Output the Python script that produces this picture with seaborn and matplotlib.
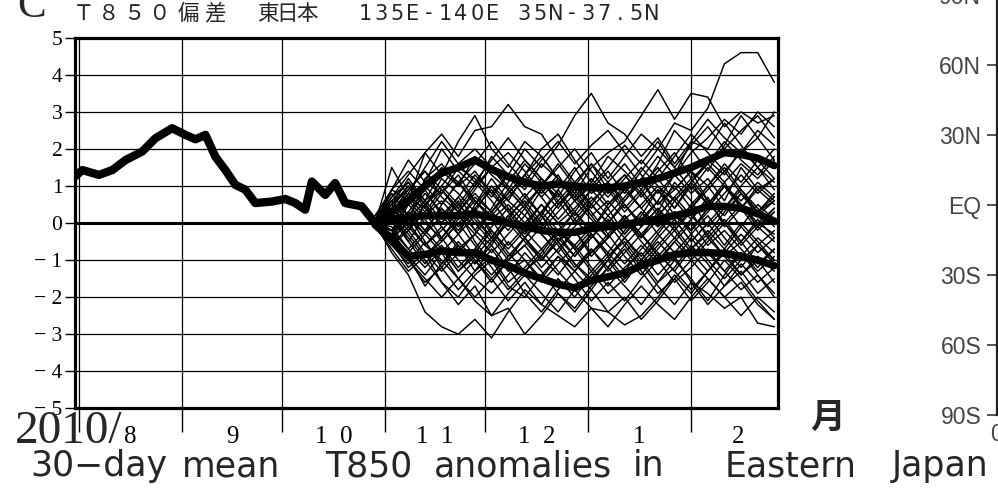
import matplotlib
matplotlib.use("Agg")
import matplotlib.pyplot as plt
import numpy as np
import pandas as pd
import seaborn as sns

W, H = 998, 490

# ---- observed 30-day mean T850 anomaly (days counted from 1 Aug 2010) ----
obs_day = [-1, 1, 6, 10, 14, 19, 23, 28, 32, 35, 38, 41, 44, 47, 50, 53,
           58, 62, 65, 68, 70, 74, 77, 80, 85, 89]
obs_val = [1.27, 1.43, 1.30, 1.43, 1.70, 1.93, 2.29, 2.56, 2.38, 2.26, 2.38,
           1.79, 1.43, 1.03, 0.90, 0.54, 0.58, 0.65, 0.54, 0.36, 1.12, 0.76,
           1.08, 0.54, 0.45, 0.00]

# ---- ensemble forecast (initial 28 Oct), sampled every 5 days ----
ens_day = [89, 94, 99, 104, 109, 114, 119, 124, 129, 134, 139, 144, 149,
           154, 159, 164, 169, 174, 179, 184, 189, 194, 199, 204, 209]

m01 = [0.1, 0.5, 1.2, 0.6, 1.4, 1.0, 1.8, 1.3, 0.9, 1.6, 1.1, 0.7, 1.4, 1.9, 1.2, 1.8, 2.4, 2.0, 2.7, 2.5, 3.1, 4.3, 4.6, 4.6, 3.8]
m02 = [0.0, -0.3, 0.5, 1.1, 0.8, 1.5, 1.2, 0.7, 1.3, 0.9, 1.6, 1.2, 0.8, 1.5, 1.9, 2.2, 2.9, 3.6, 2.8, 3.5, 3.4, 2.6, 3.0, 2.7, 2.9]
m03 = [0.2, 0.9, 1.7, 1.1, 2.0, 1.4, 1.0, 1.8, 1.3, 2.0, 1.5, 2.1, 2.9, 3.5, 2.7, 2.4, 1.8, 2.3, 1.6, 2.2, 2.8, 2.3, 1.9, 2.5, 2.1]
m04 = [0.0, 0.7, 1.3, 1.9, 2.4, 1.8, 2.5, 2.6, 3.2, 2.6, 2.4, 1.7, 1.1, 1.6, 0.9, 1.3, 0.8, 1.4, 1.9, 1.2, 1.6, 2.2, 1.7, 1.3, 1.8]
m05 = [0.1, 0.9, 0.6, 1.9, 1.3, 2.2, 2.9, 2.0, 1.5, 2.2, 1.8, 1.2, 0.6, 1.1, 0.5, 0.9, 1.5, 1.0, 0.4, 1.1, 1.7, 1.3, 2.0, 1.5, 1.1]
m06 = [0.0, 1.5, 0.7, 0.4, 1.2, 0.8, 0.3, 1.0, 0.6, 1.3, 2.0, 2.4, 1.7, 1.1, 1.8, 1.4, 0.9, 1.6, 2.5, 2.0, 1.4, 2.1, 2.9, 2.3, 3.0]
m07 = [0.0, -0.4, 0.3, 0.9, 0.2, -0.3, 0.5, 1.0, 0.4, -0.2, 0.3, 0.8, 0.1, -0.4, 0.2, 0.7, 1.2, 0.5, 0.9, 1.4, 0.6, 0.2, 0.8, 0.3, 0.6]
m08 = [0.1, 0.3, -0.5, 0.2, 0.8, 1.3, 0.6, 0.1, -0.6, -0.1, 0.5, 0.0, -0.7, -0.2, 0.4, -0.3, 0.2, 0.9, 0.4, 1.0, 0.5, 1.1, 0.4, -0.2, 0.3]
m09 = [-0.1, 0.5, 1.0, 0.4, 0.0, 0.6, -0.2, -0.6, 0.1, 0.7, 1.2, 0.5, 0.9, 0.3, -0.3, 0.2, -0.4, 0.3, 1.1, 0.6, -0.1, 0.4, 1.0, 1.5, 0.9]
m10 = [0.0, -0.2, 0.6, 0.1, -0.5, 0.0, 0.4, -0.3, -0.9, -0.4, 0.2, -0.5, -0.1, 0.5, 0.0, -0.6, -0.1, 0.4, -0.2, 0.3, -0.4, 0.1, -0.5, 0.0, -0.3]
m11 = [0.2, 0.6, 0.0, 1.2, 1.6, 1.0, 1.4, 0.8, 1.3, 0.7, 0.2, 0.9, 1.5, 0.8, 1.1, 0.5, 0.0, 0.6, 1.3, 0.8, 1.2, 0.6, 1.5, 0.9, 1.2]
m12 = [-0.1, -0.6, -0.2, 0.5, -0.1, -0.7, -0.3, 0.3, 0.9, 0.4, -0.3, -0.8, -0.2, -0.9, -0.4, 0.2, -0.3, -0.9, -0.4, 0.1, 0.6, 0.0, -0.6, -0.1, -0.5]
m13 = [0.0, -0.8, -1.4, -2.4, -2.8, -3.0, -2.6, -3.1, -2.4, -1.8, -2.2, -1.5, -2.0, -1.4, -0.9, -1.5, -1.0, -1.6, -1.2, -0.6, -1.1, -1.7, -1.3, -1.9, -1.5]
m14 = [-0.1, -0.5, -1.2, -0.8, -1.6, -2.2, -1.7, -2.5, -2.3, -3.0, -2.5, -1.9, -2.4, -1.8, -1.2, -1.7, -2.2, -1.6, -1.0, -1.5, -2.1, -1.4, -0.8, -1.3, -0.9]
m15 = [0.0, -0.3, -0.9, -1.4, -0.8, -1.5, -2.0, -1.5, -2.1, -1.6, -2.2, -2.5, -2.8, -2.3, -2.4, -2.75, -2.5, -2.0, -1.4, -1.9, -1.3, -0.8, -1.4, -1.0, -1.6]
m16 = [0.1, -0.4, 0.2, -0.5, -1.1, -0.6, -1.3, -0.9, -1.6, -1.2, -0.7, -1.3, -1.8, -1.3, -1.9, -1.5, -1.1, -1.7, -2.2, -1.6, -1.9, -2.3, -2.0, -2.7, -2.8]
m17 = [0.0, -0.6, -1.1, -0.5, -1.2, -1.8, -1.3, -0.7, -1.3, -1.0, -1.6, -1.1, -0.6, -1.2, -1.7, -1.2, -0.8, -1.4, -0.9, -1.6, -2.2, -1.7, -1.1, -1.6, -1.2]
m18 = [0.1, -0.2, -0.9, -1.7, -1.1, -0.5, -1.0, -1.6, -1.0, -0.4, -0.9, -1.4, -0.8, -0.3, -0.9, -0.5, -1.1, -0.6, -0.1, -0.7, -0.3, -0.9, -0.5, -1.1, -0.7]
m19 = [-0.1, 0.2, -0.4, -1.0, -1.6, -2.0, -1.4, -1.0, -1.7, -2.0, -1.4, -0.9, -1.5, -2.1, -1.6, -2.1, -1.5, -1.0, -1.6, -1.2, -0.7, -1.3, -1.8, -1.4, -2.0]
m20 = [0.0, 0.4, 0.0, -0.6, -0.2, 0.3, -0.5, -1.1, -0.5, -1.0, -1.5, -0.9, -1.3, -0.7, -1.2, -0.6, -1.2, -0.7, -0.2, -0.8, -1.3, -0.7, -1.2, -0.6, -1.0]
m21 = [0.0, 0.3, 0.9, 1.4, 0.7, 0.3, 0.9, 1.5, 1.9, 1.4, 0.8, 1.3, 0.6, 1.0, 1.5, 2.1, 1.6, 2.2, 1.5, 2.1, 2.6, 2.0, 2.5, 2.9, 2.3]
m22 = [0.1, 0.8, 0.2, -0.3, 0.5, 1.1, 0.5, 1.2, 0.6, 0.2, 0.9, 0.4, 1.0, 1.6, 1.1, 0.6, 1.2, 1.8, 1.3, 2.2, 2.0, 2.7, 2.1, 1.5, 2.0]
m23 = [-0.1, 0.2, 0.8, 0.3, 0.9, 0.4, -0.2, 0.4, 1.1, 1.7, 1.2, 0.8, 0.2, 0.7, 0.2, -0.3, 0.3, -0.1, 0.6, 0.1, 0.7, -0.1, 0.4, 0.9, 0.5]
m24 = [0.0, -0.1, -0.7, -0.2, 0.4, -0.3, -0.9, -0.4, 0.2, -0.4, -1.0, -0.5, -1.1, -1.6, -1.0, -0.4, -0.9, -0.3, 0.3, -0.2, 0.4, 1.0, 0.5, 0.0, 0.4]
m25 = [0.0, 0.6, 0.2, 0.8, 0.3, -0.2, 0.4, 0.9, 0.3, 0.8, 0.2, -0.3, 0.3, -0.2, 0.5, 1.0, 0.4, 0.9, 0.2, -0.2, 0.4, 1.0, 0.6, 1.1, 0.7]
m26 = [-0.1, -0.5, 0.1, -0.3, -0.8, -0.3, 0.2, -0.4, -1.0, -0.6, -1.2, -0.7, -0.2, -0.8, -0.3, -0.9, -1.4, -0.8, -1.3, -0.7, -0.2, -0.7, -0.1, -0.6, -0.2]
m27 = [0.1, 0.4, 1.0, 0.5, 1.0, 1.6, 2.0, 1.5, 0.9, 0.4, 1.0, 1.5, 2.0, 1.4, 0.8, 1.3, 0.7, 1.2, 1.8, 2.4, 1.9, 1.4, 1.9, 2.3, 1.7]
m28 = [0.0, -0.3, -0.8, -0.3, 0.2, 0.7, 0.1, -0.4, 0.2, 0.6, 0.0, -0.5, 0.1, 0.6, 1.0, 0.4, 0.9, 0.3, -0.2, 0.4, 1.0, 1.5, 0.9, 0.4, -0.1]
m29 = [-0.1, -0.7, -1.3, -0.9, -0.4, -1.0, -1.5, -1.9, -1.4, -0.8, -1.3, -1.9, -2.3, -1.7, -1.2, -0.7, -1.3, -1.9, -1.5, -2.1, -1.6, -1.0, -1.5, -2.1, -2.6]
m30 = [0.0, 0.2, -0.3, -0.9, -0.5, 0.0, -0.6, -1.2, -1.8, -1.3, -0.8, -0.2, -0.7, -1.3, -0.8, -0.2, 0.3, -0.3, -0.8, -0.3, 0.2, -0.4, -0.9, -0.4, -0.8]
m31 = [0.1, 0.7, 1.1, 0.6, 0.1, 0.7, 1.3, 0.8, 0.3, -0.3, 0.3, 0.9, 0.3, 0.9, 1.4, 0.8, 1.4, 2.0, 1.5, 0.9, 1.5, 1.0, 0.4, 1.0, 0.6]
m32 = [0.0, 0.3, 0.8, 1.5, 2.2, 1.6, 1.1, 1.7, 2.3, 1.7, 1.2, 0.6, 1.1, 0.5, 0.0, 0.6, 1.1, 0.5, 1.0, 0.4, 0.9, 1.4, 0.8, 0.2, 0.6]
m33 = [-0.1, -0.3, 0.3, -0.2, -0.7, -1.3, -0.8, -0.2, -0.8, -1.3, -0.9, -0.3, -0.9, -0.4, 0.1, -0.4, 0.1, 0.6, 0.1, -0.5, 0.0, 0.5, -0.1, 0.5, 0.1]
m34 = [0.0, -0.5, -1.0, -1.5, -2.0, -1.5, -2.1, -2.5, -1.9, -1.4, -1.9, -2.4, -1.8, -2.3, -2.8, -2.2, -1.7, -2.2, -2.6, -2.0, -1.5, -2.0, -2.5, -2.0, -2.4]
m35 = [0.1, 0.5, 0.1, 0.6, 1.0, 0.5, 1.1, 0.6, 0.0, 0.5, 1.0, 1.6, 1.0, 0.4, 0.9, 0.3, 0.8, 0.2, 0.7, 1.2, 0.6, 0.0, 0.5, -0.1, 0.3]
m36 = [0.0, 0.1, -0.5, -1.1, -0.6, -1.2, -0.7, -0.1, 0.4, -0.2, -0.7, -0.2, 0.3, -0.3, -0.8, -1.3, -0.7, -0.2, 0.3, -0.3, -0.8, -1.3, -0.8, -1.4, -1.9]
m37 = [0.0, 0.9, 1.4, 0.9, 1.5, 1.1, 1.6, 2.2, 1.6, 1.1, 1.7, 2.2, 1.6, 2.1, 2.5, 1.9, 1.3, 0.8, 1.3, 1.9, 2.3, 2.8, 2.4, 3.0, 2.6]
m38 = [-0.1, 0.3, -0.2, 0.3, -0.4, 0.2, -0.3, 0.3, -0.2, 0.4, -0.2, 0.3, 0.8, 0.2, -0.4, 0.1, -0.5, -1.0, -0.5, 0.0, -0.6, -0.2, -0.7, -1.2, -0.7]
m39 = [0.0, -0.4, -1.0, -1.6, -1.2, -0.6, -1.1, -0.6, -1.2, -1.9, -2.4, -1.8, -1.3, -1.8, -2.4, -2.0, -2.6, -2.1, -1.5, -1.0, -1.5, -2.0, -1.6, -2.2, -2.6]
m40 = [0.1, 0.2, 0.7, 0.2, 0.6, 0.1, 0.7, 0.3, 0.8, 1.3, 0.7, 0.1, 0.6, 0.1, -0.4, 0.2, -0.3, 0.2, 0.7, 0.2, -0.3, 0.3, 0.8, 0.3, 0.7]
m41 = [0.0, 0.4, -0.1, 0.5, 0.0, 0.5, 0.0, -0.5, 0.1, -0.4, 0.1, 0.6, 0.0, 0.5, 0.0, 0.5, -0.1, 0.4, -0.1, 0.5, 1.0, 0.4, 0.9, 0.3, 0.8]
m42 = [-0.1, -0.4, 0.0, -0.6, -0.1, -0.6, -1.1, -0.5, 0.0, -0.5, -1.0, -0.4, -0.9, -0.3, -0.9, -0.4, -1.0, -0.4, 0.1, -0.5, 0.0, -0.6, 0.0, -0.5, -1.0]
m43 = [0.1, 0.6, 1.1, 0.5, 0.9, 0.4, 1.0, 1.5, 1.0, 0.5, -0.1, 0.5, 1.0, 0.5, 1.1, 1.6, 1.0, 1.5, 0.9, 1.4, 1.0, 1.6, 1.1, 1.7, 1.2]
m44 = [0.0, -0.2, -0.7, -1.2, -0.7, -1.3, -0.9, -1.4, -0.9, -0.4, -1.0, -0.5, -1.1, -1.5, -1.0, -1.6, -1.0, -0.5, -1.0, -0.4, -1.0, -1.5, -1.0, -0.6, -1.1]
m45 = [0.0, 0.2, 0.6, 1.0, 0.5, 1.1, 0.6, 0.2, 0.7, 1.2, 0.7, 1.2, 0.7, 0.2, 0.6, 0.1, 0.5, 1.0, 0.6, 1.1, 1.6, 1.1, 1.6, 1.2, 1.7]
m46 = [-0.1, -0.2, 0.3, -0.2, 0.4, -0.1, 0.4, -0.2, -0.7, -0.2, 0.3, -0.2, -0.6, -0.1, -0.6, -1.1, -0.6, -1.1, -0.5, -1.0, -0.5, 0.0, -0.5, 0.1, -0.4]
m47 = [0.0, 0.3, -0.2, -0.8, -1.3, -0.8, -0.3, -0.8, -0.3, 0.2, -0.3, -0.8, -1.3, -0.8, -0.4, 0.1, -0.4, 0.1, -0.4, -0.9, -0.4, -0.9, -1.4, -0.9, -1.3]
m48 = [0.1, 0.1, 0.5, 0.0, -0.4, 0.1, 0.6, 0.1, 0.5, 0.0, 0.5, 0.0, 0.4, 0.9, 0.4, 0.9, 0.4, -0.1, 0.3, -0.2, 0.3, 0.8, 1.3, 0.8, 1.2]
m49 = [0.0, -0.6, -0.1, -0.6, -1.0, -1.5, -1.0, -1.5, -1.0, -0.6, -0.1, -0.6, -1.2, -0.7, -1.3, -0.8, -0.3, -0.8, -1.3, -1.8, -1.3, -0.8, -0.3, -0.8, -0.4]
m50 = [0.0, 0.5, 0.9, 1.4, 0.9, 0.3, 0.8, 0.3, 0.8, 1.3, 1.8, 1.2, 0.7, 1.2, 0.7, 1.2, 1.7, 1.2, 0.6, 1.1, 0.5, 1.0, 0.5, -0.1, 0.4]

# ensemble mean and spread envelope
ens_upper = [0.0, 0.3, 0.6, 1.0, 1.35, 1.5, 1.7, 1.45, 1.25, 1.1, 1.0, 1.05, 1.0, 0.95, 0.95, 1.0, 1.1, 1.2, 1.35, 1.5, 1.7, 1.9, 1.85, 1.75, 1.55]
ens_mean = [0.0, 0.1, 0.15, 0.2, 0.2, 0.2, 0.25, 0.15, 0.0, -0.1, -0.2, -0.25, -0.25, -0.15, -0.1, -0.05, 0.05, 0.1, 0.2, 0.3, 0.45, 0.45, 0.4, 0.25, 0.05]
ens_lower = [-0.05, -0.45, -0.9, -0.85, -0.75, -0.8, -0.8, -1.0, -1.15, -1.35, -1.5, -1.65, -1.75, -1.55, -1.45, -1.35, -1.15, -1.0, -0.85, -0.8, -0.8, -0.82, -0.9, -1.0, -1.15]

month_start = [0, 31, 61, 92, 122, 153, 184]
month_mid = [15.5, 46, 76.5, 107, 137.5, 168.5, 198]
month_lab = ["8", "9", "1  0", "1  1", "1  2", "1", "2"]
y_ticks = [5, 4, 3, 2, 1, 0, -1, -2, -3, -4, -5]
y_labels = ["5", "4", "3", "2", "1", "0", "\u2212 1", "\u2212 2", "\u2212 3",
            "\u2212 4", "\u2212 5"]

lat_ticks = [-90, -60, -30, 0, 30, 60, 90]
lat_labels = ["90S", "60S", "30S", "EQ", "30N", "60N", "90N"]

title_parts = ["Ｔ８５０", "偏差", "東日本", "135E-140E", "35N-37.5N"]
caption_words = ["30\u2212day", "mean", "T850", "anomalies", "in", "Eastern",
                 "Japan"]

members = [m01, m02, m03, m04, m05, m06, m07, m08, m09, m10, m11, m12,
           m13, m14, m15, m16, m17, m18, m19, m20, m21, m22, m23, m24,
           m25, m26, m27, m28, m29, m30, m31, m32, m33, m34, m35, m36,
           m37, m38, m39, m40, m41, m42, m43, m44, m45, m46, m47, m48,
           m49, m50]
ens_df = pd.DataFrame({
    "day": np.tile(ens_day, len(members)),
    "value": np.concatenate(members),
    "member": np.repeat(np.arange(len(members)), len(ens_day)),
})

sns.set_theme(style="white")
plt.rcParams["font.family"] = ["Noto Sans CJK JP", "DejaVu Sans"]
SERIF = ["Liberation Serif", "DejaVu Serif"]

fig = plt.figure(figsize=(W / 100, H / 100), dpi=100)
fig.patch.set_facecolor("white")


def fx(x):
    return x / W


def fy(y):
    return 1 - y / H


ax = fig.add_axes([fx(75), fy(408.3), (778 - 75) / W, (408.3 - 37.8) / H])
ax.set_facecolor("white")

# grid
for v in range(-4, 5):
    ax.axhline(v, color="black", lw=2.2 if v == 0 else 0.9, zorder=1)
for d in month_start:
    ax.axvline(d, color="black", lw=0.9, zorder=1)

sns.lineplot(data=ens_df, x="day", y="value", units="member", estimator=None,
             color="black", linewidth=1.05, ax=ax, legend=False, zorder=3)
for series in (ens_upper, ens_mean, ens_lower):
    sns.lineplot(x=ens_day, y=series, color="black", linewidth=5.4, ax=ax,
                 zorder=4, solid_capstyle="round")
sns.lineplot(x=obs_day, y=obs_val, color="black", linewidth=6.0, ax=ax,
             zorder=5, solid_capstyle="round")

ax.set_xlim(-1.2, 210.1)
ax.set_ylim(-5, 5)
ax.set_xlabel("")
ax.set_ylabel("")
for s in ax.spines.values():
    s.set_visible(True)
    s.set_color("black")
    s.set_linewidth(2.3)

ax.set_yticks(y_ticks)
ax.set_yticklabels(y_labels, family=SERIF, fontsize=15.5)
ax.set_xticks(month_mid)
ax.set_xticklabels(month_lab, family=SERIF, fontsize=18)
ax.set_xticks(month_start, minor=True)
ax.tick_params(axis="y", which="major", direction="out", length=7, width=1,
               pad=2, left=True, colors="black")
ax.tick_params(axis="x", which="major", length=0, pad=13, colors="black")
ax.tick_params(axis="x", which="minor", direction="out", length=17, width=1,
               bottom=True, colors="black")

# neighbouring latitude panel (partly off the right edge)
ax2 = fig.add_axes([fx(996.5), fy(415), 0.2, (415 + 5) / H])
ax2.set_ylim(-90, 90)
ax2.set_xlim(0, 1)
ax2.set_yticks(lat_ticks)
ax2.set_yticklabels(lat_labels, family=["Liberation Sans", "DejaVu Sans"],
                    fontsize=16.5, color="#444444")
ax2.set_xticks([0])
ax2.set_xticklabels(["0"], family=["Liberation Sans", "DejaVu Sans"],
                    fontsize=16.5, color="#444444")
ax2.tick_params(axis="y", direction="out", length=7, width=1.2, pad=4,
                left=True, colors="#333333")
ax2.tick_params(axis="y", labelcolor="#444444")
ax2.tick_params(axis="x", length=0, pad=6)
for k, s in ax2.spines.items():
    s.set_visible(k == "left")
ax2.spines["left"].set_color("#222222")
ax2.spines["left"].set_linewidth(1.6)
ax2.set_facecolor("white")

# panel letter
fig.text(fx(17), fy(17), "C", family=SERIF, fontsize=31, ha="left",
         va="baseline")

# title, set on a fixed character pitch
title_first = [84, 188.5, 267.5, 365, 524]
title_pitch = [24.8, 26.5, 19.8, 16.0, 16.0]
title_font = [["Noto Sans CJK JP"], ["Noto Sans CJK JP"], ["Noto Sans CJK JP"],
              ["DejaVu Sans"], ["DejaVu Sans"]]
title_size = [15.5, 15.5, 15.5, 15, 15]
for part, x0, step, fam, size in zip(title_parts, title_first, title_pitch,
                                     title_font, title_size):
    for k, ch in enumerate(part):
        fig.text(fx(x0 + k * step), fy(19.5), ch, family=fam, fontsize=size,
                 ha="center", va="baseline")

fig.text(fx(15), fy(443), "2010/", family=SERIF, fontsize=34, ha="left",
         va="baseline")
fig.text(fx(828), fy(417), "月", fontsize=25, fontweight="bold",
         ha="center", va="center")

# caption, word by word
word_centres = [98.5, 231, 368.5, 522.5, 648.5, 791, 940]
for word, xc in zip(caption_words, word_centres):
    fig.text(fx(xc), fy(476), word, family=["DejaVu Sans"], fontsize=25,
             ha="center", va="baseline")

fig.savefig("out.png", dpi=100, facecolor="white")
